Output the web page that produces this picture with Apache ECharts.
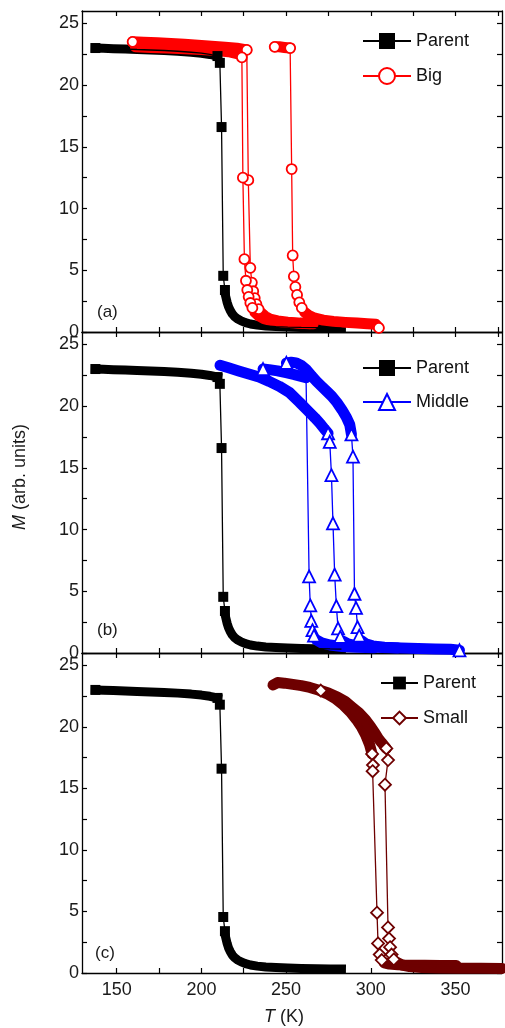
<!DOCTYPE html>
<html>
<head>
<meta charset="utf-8">
<script src="https://cdn.jsdelivr.net/npm/echarts@6/dist/echarts.min.js"></script>
<style>
  html, body { margin: 0; padding: 0; background: #fff; }
  #chart { width: 505px; height: 1028px; }
</style>
</head>
<body>
<div id="chart"></div>
<script>
// T (K) on x, M (arb. units) on y
const xTicks = [150, 175, 200, 225, 250, 275, 300, 325, 350, 375]
const xLabels = [150, 200, 250, 300, 350]
const yTicks = [0, 2.5, 5, 7.5, 10, 12.5, 15, 17.5, 20, 22.5, 25]
const yLabels = [0, 5, 10, 15, 20, 25]

// every curve = dense plateau, separate points through the jump, dense tail
// Parent (same curve in all three panels)
const parentBand = [[137.4, 23.0], [142, 22.98], [148, 22.95], [155, 22.92], [162, 22.88], [170, 22.84], [178, 22.8], [186, 22.74], [194, 22.66], [200, 22.58], [205, 22.48], [209.5, 22.35]]
const parentJump = [[210.9, 21.8], [211.9, 16.6], [212.9, 4.55], [213.9, 3.4]]
const parentTail = [[214.5, 2.8], [215.2, 2.4], [216, 2.05], [217, 1.75], [218.3, 1.45], [219.8, 1.22], [221.5, 1.05], [223.5, 0.9], [226, 0.76], [229, 0.65], [233, 0.56], [238, 0.49], [244, 0.44], [251, 0.4], [259, 0.37], [268, 0.35], [276, 0.33], [282.7, 0.32]]

// Big (a)
const big1Band = [[159.4, 23.5], [166, 23.47], [174, 23.42], [182, 23.36], [190, 23.3], [198, 23.22], [206, 23.14], [214, 23.06], [221, 22.98], [226.8, 22.85]]
const big1Jump = [[227.7, 12.3], [228.9, 5.2], [229.8, 4.0], [230.6, 3.3], [231.5, 2.75], [232.5, 2.25], [233.8, 1.85]]
const big1Tail = [[235.3, 1.55], [237.5, 1.28], [240.5, 1.05], [245, 0.9], [251, 0.8], [258, 0.72], [266, 0.66]]

const big2Band = [[161, 23.1], [170, 23.05], [180, 23.0], [190, 22.95], [200, 22.88], [209, 22.8], [216, 22.7], [221, 22.55]]
const big2Jump = [[223.9, 22.25], [224.5, 12.5], [225.4, 5.9], [226.3, 4.15], [227.1, 3.4], [227.9, 2.85], [228.9, 2.35], [230.1, 1.95]]
const big2Tail = [[231.6, 1.6], [233.8, 1.32], [237, 1.08], [241.5, 0.92], [248, 0.8], [256, 0.72], [264, 0.66]]

const big3Band = [[243.3, 23.1], [246, 23.1], [249, 23.05], [252.4, 23.0]]
const big3Jump = [[253.3, 13.2], [253.9, 6.2], [254.6, 4.5], [255.5, 3.65], [256.5, 3.0], [257.8, 2.4], [259.3, 1.95]]
const big3Tail = [[261, 1.6], [263.5, 1.33], [267, 1.12], [272, 0.96], [278, 0.86], [285, 0.78], [292, 0.72], [298, 0.67], [303, 0.62], [304.8, 0.33]]

// Middle (b)
const mid1Band = [[211, 23.3], [216, 23.1], [222, 22.85], [228, 22.6], [234, 22.35], [240, 22.0], [246, 21.6], [252, 21.1], [258, 20.3], [263, 19.6], [267, 19.05], [270, 18.6], [272.6, 18.15], [274.8, 17.8]]
const mid1Jump = [[275.8, 17.1], [276.8, 14.4], [277.7, 10.5], [278.7, 6.35], [279.7, 3.8], [280.7, 2.0], [282, 1.3]]
const mid1Tail = [[283.8, 0.95], [286.5, 0.75], [291, 0.6], [298, 0.5], [307, 0.44], [316, 0.4]]

const mid2Band = [[236.4, 23.0], [240, 22.95], [245, 22.85], [250, 22.7], [255, 22.55], [259, 22.4], [261.8, 22.3]]
const mid2Jump = [[263.6, 6.2], [264.3, 3.85], [264.9, 2.6], [265.6, 1.85], [266.5, 1.4]]
const mid2Tail = [[268, 1.05], [271, 0.82], [276, 0.65], [283, 0.53], [292, 0.46], [302, 0.42]]

const mid3Band = [[250.2, 23.5], [253, 23.55], [256, 23.5], [259, 23.3], [262, 22.95], [265, 22.45], [268, 22.0], [271, 21.6], [274, 21.2], [277, 20.8], [280, 20.3], [283, 19.7], [285.6, 19.1], [287.6, 18.5], [288.6, 17.7]]
const mid3Jump = [[289.5, 15.9], [290.4, 4.8], [291.3, 3.65], [292.2, 2.1], [293.2, 1.4]]
const mid3Tail = [[294.5, 1.0], [297, 0.75], [301, 0.58], [308, 0.47], [318, 0.4], [328, 0.36], [338, 0.33], [347, 0.3], [352.4, 0.22]]

// Small (c)
const small1Band = [[242.3, 23.4], [245, 23.6], [249, 23.55], [254, 23.45], [259, 23.35], [264, 23.2], [269, 23.0], [274, 22.7], [279, 22.3], [284, 21.75], [288, 21.2], [291.5, 20.6], [294.5, 20.0], [297, 19.35], [299.2, 18.6], [300.8, 17.8]]
const small1Jump = [[301.3, 16.9], [301.1, 16.4], [303.7, 4.9], [304.3, 2.4], [305.3, 1.5], [306.5, 1.05]]
const small1Tail = [[308, 0.82], [311, 0.72], [316, 0.66], [323, 0.63], [332, 0.62], [341, 0.61], [350.5, 0.6]]

const small2Band = [[270.5, 22.95], [275, 22.75], [280, 22.45], [285, 22.05], [289, 21.6], [293, 21.15], [297, 20.55], [300, 20.0], [302.5, 19.5], [304.5, 19.05], [306.5, 18.7], [309.2, 18.25]]
const small2Jump = [[310.2, 17.3], [308.4, 15.3], [310.2, 3.7], [310.8, 2.8], [311.4, 2.1], [312.3, 1.5], [313.6, 1.1]]
const small2Tail = [[315.5, 0.85], [318.5, 0.65], [323, 0.52], [330, 0.45], [340, 0.41], [352, 0.39], [365, 0.38], [377.5, 0.37]]

const font = '"Liberation Sans", Arial, sans-serif'

const look = {
  Parent: { symbol: 'rect', size: 10, color: '#000000', fill: '#000000', band: 9, cap: 'square' },
  Big: { symbol: 'circle', size: 10, color: '#ff0000', fill: '#ffffff', band: 11, cap: 'round' },
  Middle: { symbol: 'triangle', size: 12, color: '#0000ff', fill: '#ffffff', band: 11, cap: 'round' },
  Small: { symbol: 'diamond', size: 12, color: '#6e0000', fill: '#ffffff', band: 11, cap: 'round' }
}

// thick line for the dense parts, thin line + markers through the whole run
function curve(name, g, band, jump, tail, marks) {
  const s = look[name]
  const out = []
  ;[band, tail].forEach(part => {
    out.push({
      type: 'line', name: name + ' band', xAxisIndex: g * 2, yAxisIndex: g * 2,
      data: part, symbol: 'none', silent: true, z: 2,
      lineStyle: { color: s.color, width: s.band, cap: s.cap, join: 'round' }
    })
  })
  const pts = band.concat(jump, tail)
  const data = pts.map((p, i) => {
    let keep = i >= band.length && i < band.length + jump.length
    if (i === 0 && marks.start) keep = true
    if (i === band.length - 1 && marks.bandEnd) keep = true
    if (i === pts.length - 1 && marks.end) keep = true
    return keep ? p : { value: p, symbol: 'none' }
  })
  out.push({
    type: 'line', name: name, xAxisIndex: g * 2, yAxisIndex: g * 2,
    data: data, z: 3, symbol: s.symbol, symbolSize: s.size, showAllSymbol: true,
    itemStyle: { color: s.fill, borderColor: s.color, borderWidth: s.fill === '#ffffff' ? 1.8 : 0 },
    lineStyle: { color: s.color, width: 1.3 }
  })
  return out
}

let series = []
for (let g = 0; g < 3; g++) {
  series = series.concat(curve('Parent', g, parentBand, parentJump, parentTail, { start: true, bandEnd: true, end: false }))
}
series = series.concat(
  curve('Big', 0, big1Band, big1Jump, big1Tail, { start: true, bandEnd: true, end: false }),
  curve('Big', 0, big2Band, big2Jump, big2Tail, { start: false, bandEnd: false, end: false }),
  curve('Big', 0, big3Band, big3Jump, big3Tail, { start: true, bandEnd: true, end: true }),
  curve('Middle', 1, mid1Band, mid1Jump, mid1Tail, { start: false, bandEnd: true, end: false }),
  curve('Middle', 1, mid2Band, mid2Jump, mid2Tail, { start: true, bandEnd: false, end: false }),
  curve('Middle', 1, mid3Band, mid3Jump, mid3Tail, { start: true, bandEnd: true, end: true }),
  curve('Small', 2, small1Band, small1Jump, small1Tail, { start: false, bandEnd: true, end: false }),
  curve('Small', 2, small2Band, small2Jump, small2Tail, { start: true, bandEnd: true, end: false })
)

const grids = [
  { left: 82, top: 11, width: 420, height: 321 },
  { left: 82, top: 332, width: 420, height: 321 },
  { left: 82, top: 653, width: 420, height: 320 }
]

const axisLine = { show: true, onZero: false, lineStyle: { color: '#000', width: 1.3 } }
const tickStyle = { color: '#000', width: 1.2 }
const xAxes = []
const yAxes = []
grids.forEach((gr, g) => {
  ;['bottom', 'top'].forEach(pos => {
    xAxes.push({
      type: 'value', gridIndex: g, position: pos, min: 129.5, max: 377.5,
      axisLine: axisLine,
      axisTick: { show: true, inside: true, length: 5, lineStyle: tickStyle, customValues: xTicks },
      axisLabel: {
        show: pos === 'bottom' && g === 2, customValues: xLabels, margin: 8,
        fontFamily: font, fontSize: 18, color: '#1a1a1a'
      },
      splitLine: { show: false }
    })
  })
  ;['left', 'right'].forEach(pos => {
    yAxes.push({
      type: 'value', gridIndex: g, position: pos, min: 0, max: 26,
      axisLine: axisLine,
      axisTick: { show: true, inside: true, length: 5, lineStyle: tickStyle, customValues: yTicks },
      axisLabel: {
        show: pos === 'left', customValues: yLabels, margin: 3,
        fontFamily: font, fontSize: 18, color: '#1a1a1a'
      },
      splitLine: { show: false }
    })
  })
})

const legendText = { fontFamily: font, fontSize: 18, color: '#111' }
const legends = [
  { data: ['Parent', 'Big'], left: 362, top: 32, itemWidth: 48, itemHeight: 20, itemGap: 17 },
  { data: ['Parent', 'Middle'], left: 362, top: 359, itemWidth: 48, itemHeight: 20, itemGap: 16 },
  { data: ['Parent', 'Small'], left: 380, top: 674, itemWidth: 37, itemHeight: 16, itemGap: 17 }
].map(l => Object.assign({ orient: 'vertical', selectedMode: false, textStyle: legendText, padding: 0 }, l))

const panelText = (t, x, y) => ({
  type: 'text', x: x, y: y, silent: true,
  style: { text: t, font: '17px ' + font, fill: '#1a1a1a', verticalAlign: 'middle' }
})

const option = {
  animation: false,
  backgroundColor: '#fff',
  grid: grids,
  xAxis: xAxes,
  yAxis: yAxes,
  legend: legends,
  graphic: [
    panelText('(a)', 97, 312),
    panelText('(b)', 97, 630),
    panelText('(c)', 95, 953),
    {
      type: 'text', x: 20, y: 477, rotation: Math.PI / 2, silent: true,
      style: {
        text: '{i|M} (arb. units)', font: '18px ' + font, fill: '#1a1a1a',
        align: 'center', verticalAlign: 'middle',
        rich: { i: { font: 'italic 18px ' + font, fill: '#1a1a1a' } }
      }
    },
    {
      type: 'text', x: 284, y: 1017, silent: true,
      style: {
        text: '{i|T} (K)', font: '18px ' + font, fill: '#1a1a1a',
        align: 'center', verticalAlign: 'middle',
        rich: { i: { font: 'italic 18px ' + font, fill: '#1a1a1a' } }
      }
    }
  ],
  series: series
}

const chart = echarts.init(document.getElementById('chart'))
chart.setOption(option)
window.onresize = () => chart.resize()
</script>
</body>
</html>
